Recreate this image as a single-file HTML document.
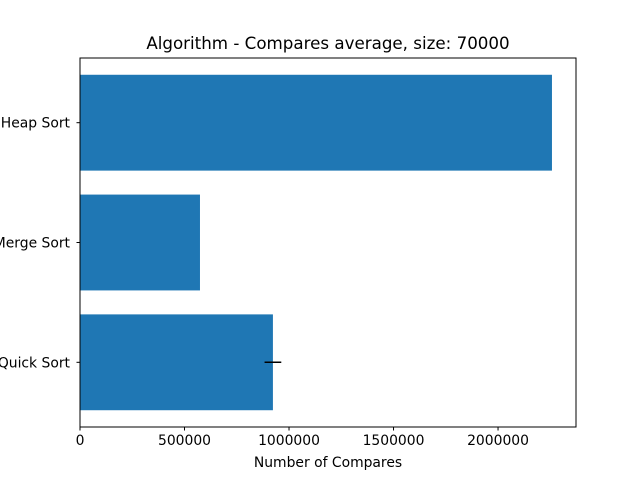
<!DOCTYPE html>
<html><head><meta charset="utf-8"><style>body{margin:0;background:#fff}svg{display:block}</style></head>
<body>
<svg id="chart" width="640" height="480" xmlns="http://www.w3.org/2000/svg" font-family="DejaVu Sans, sans-serif">
<rect width="640" height="480" fill="#fff"/>
<text x="328" y="49" text-anchor="middle" font-size="16.7">Algorithm - Compares average, size: 70000</text>
<g id="bars"></g>
<g id="yticks"></g>
<g id="xticks"></g>
<rect x="80" y="58" width="496" height="369" fill="none" stroke="#000" stroke-width="1"/>
<text x="328" y="467" text-anchor="middle" font-size="13.9">Number of Compares</text>
</svg>
<script>
const categories = ["Quick Sort", "Merge Sort", "Heap Sort"];
const values = [923000, 574000, 2258000];
const errors = [40000, 0, 0];
const xTicks = [0, 500000, 1000000, 1500000, 2000000];
const xTickLabels = ["0", "500000", "1000000", "1500000", "2000000"];

const NS = "http://www.w3.org/2000/svg";
const L = 80, T = 58, W = 496, H = 369;
const xMax = 2373000;
const yMin = -0.54, yMax = 2.54;
const xs = v => L + v / xMax * W;
const ys = v => T + (yMax - v) / (yMax - yMin) * H;
function mk(tag, attrs, parent) { const e = document.createElementNS(NS, tag); for (const k in attrs) e.setAttribute(k, attrs[k]); parent.appendChild(e); return e; }
const bars = document.getElementById('bars'), yt = document.getElementById('yticks'), xt = document.getElementById('xticks');
categories.forEach((c, i) => {
  const r = mk('rect', {x: xs(0), y: ys(i + 0.4), width: xs(values[i]) - xs(0), height: ys(i - 0.4) - ys(i + 0.4), fill: '#1f77b4'}, bars);
  
  
  if (errors[i] > 0) {
    const e = mk('line', {x1: xs(values[i] - errors[i]), x2: xs(values[i] + errors[i]), y1: ys(i), y2: ys(i), stroke: '#000', 'stroke-width': 1.5}, bars);
    
    
  }
  mk('line', {x1: L - 3.5, x2: L, y1: ys(i), y2: ys(i), stroke: '#000'}, yt);
  const t = mk('text', {x: L - 10, y: ys(i) + 5, 'text-anchor': 'end', 'font-size': 13.9}, yt);
  t.textContent = c;
  
  
});
xTicks.forEach((v, i) => {
  mk('line', {x1: xs(v), x2: xs(v), y1: T + H, y2: T + H + 3.5, stroke: '#000'}, xt);
  const t = mk('text', {x: xs(v), y: T + H + 18, 'text-anchor': 'middle', 'font-size': 13.9}, xt);
  t.textContent = xTickLabels[i];
  
  
});
</script>
</body></html>
